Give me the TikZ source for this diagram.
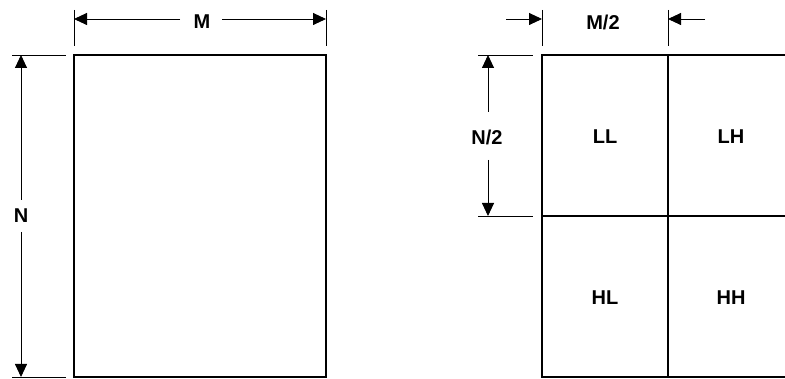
\documentclass[tikz,border=0pt]{standalone}
\usepackage{fontspec}
\setmainfont{Liberation Sans}
\usetikzlibrary{arrows.meta}
\begin{document}
\begin{tikzpicture}[x=1pt,y=-1pt,
  box/.style={line width=1.8pt},
  dim/.style={line width=0.9pt},
  ext/.style={line width=0.8pt},
  tip/.style={-{Triangle[length=13pt,width=12pt]}},
  lbl/.style={font=\fontsize{20}{24}\selectfont\bfseries, inner sep=0pt}]
\useasboundingbox (0,0) rectangle (785,379);
\clip (0,0) rectangle (785,379);
% left image
\coordinate (A1) at (74,55);
\coordinate (A2) at (326,377);
\draw[box] (A1) rectangle (A2);
% M dimension
\coordinate (mL) at (74,19);
\coordinate (mR) at (326,19);
\draw[ext] (74,10) -- (74,46);
\draw[ext] (326,10) -- (326,46);
\node[lbl] (M) at (202,22) {M};
\draw[dim,tip] (180,19) -- (mL);
\draw[dim,tip] (222,19) -- (mR);
% N dimension
\coordinate (nT) at (21,55);
\coordinate (nB) at (21,377);
\draw[ext] (12,55) -- (66,55);
\draw[ext] (12,377) -- (66,377);
\node[lbl] (N) at (21,216) {N};
\draw[dim,tip] (21,200) -- (nT);
\draw[dim,tip] (21,232) -- (nB);
% right image (right edge lies beyond the picture)
\coordinate (B1) at (542,55);
\coordinate (B2) at (542,377);
\coordinate (Bm) at (542,216);
\draw[box] (800,55) -- (B1) -- (B2) -- (800,377);
\draw[box] (668,55) -- (668,377);
\draw[box] (Bm) -- (800,216);
\node[lbl] (LL) at (605,137) {LL};
\node[lbl] (LH) at (731,137) {LH};
\node[lbl] (HL) at (605,298) {HL};
\node[lbl] (HH) at (731,298) {HH};
% M/2 dimension
\draw[ext] (542,10) -- (542,46);
\draw[ext] (668,10) -- (668,46);
\coordinate (hL0) at (506,19);
\coordinate (hL1) at (542,19);
\coordinate (hR0) at (705,19);
\coordinate (hR1) at (668,19);
\draw[dim,tip] (hL0) -- (hL1);
\draw[dim,tip] (hR0) -- (hR1);
\node[lbl] (M2) at (603,22) {M/2};
% N/2 dimension
\draw[ext] (478,55) -- (533,55);
\draw[ext] (478,216) -- (533,216);
\coordinate (vT) at (488,55);
\coordinate (vB) at (488,216);
\node[lbl] (N2) at (487,137) {N/2};
\draw[dim,tip] (488,112) -- (vT);
\draw[dim,tip] (488,160) -- (vB);
\end{tikzpicture}
\end{document}
